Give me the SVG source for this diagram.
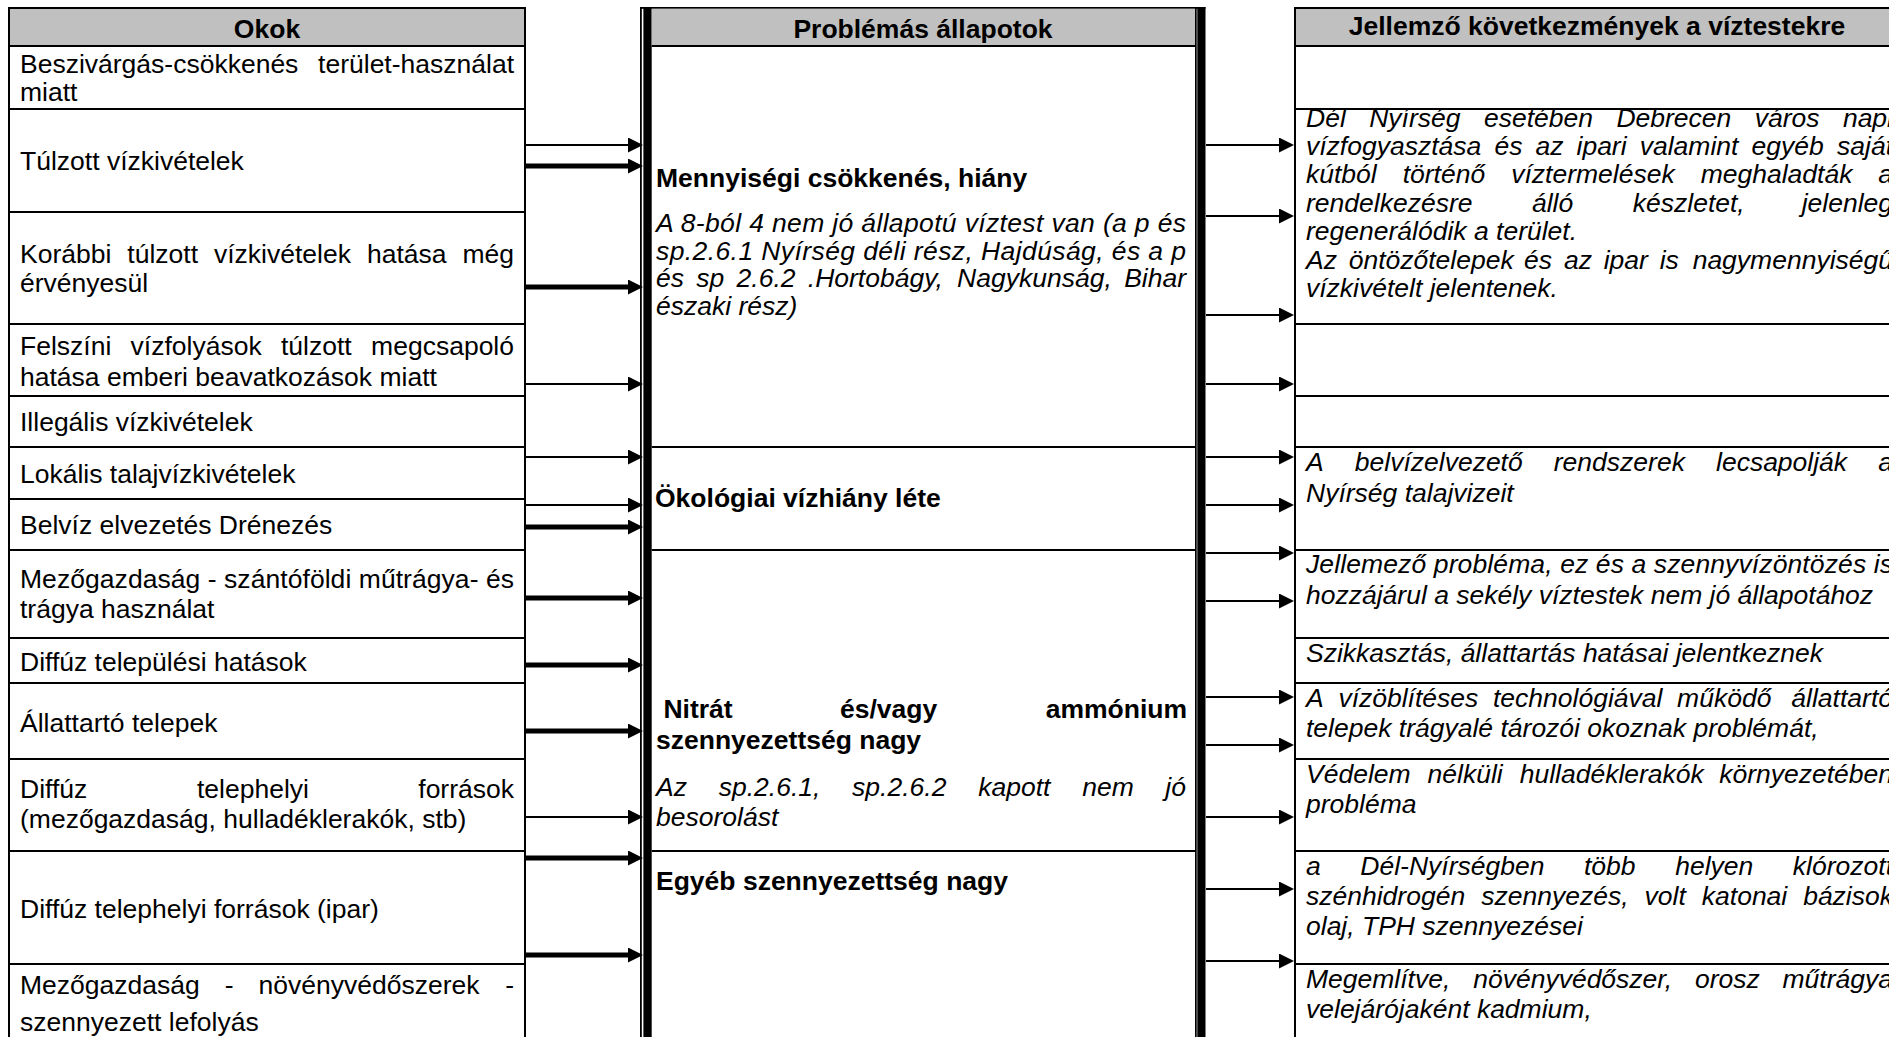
<svg xmlns="http://www.w3.org/2000/svg" width="1889" height="1037" viewBox="0 0 1889 1037">
  <style>
    .t { font-family: "Liberation Sans", Arial, Helvetica, sans-serif; font-size: 26.5px; fill: #000; }
    .b { font-weight: bold; }
    .i { font-style: italic; }
    .e { text-anchor: end; }
    .c { text-anchor: middle; }
    .cell { fill: #fff; stroke: #000; stroke-width: 2; }
    .hd { fill: #c0c0c0; stroke: #000; stroke-width: 2; }
    .bar { fill: #000; }
    .thin { stroke: #000; stroke-width: 2; fill: none; marker-end: url(#ah); }
    .thick { stroke: #000; stroke-width: 5; fill: none; marker-end: url(#ah); }
  </style>
  <defs>
    <marker id="ah" markerUnits="userSpaceOnUse" viewBox="0 0 15 15" markerWidth="15" markerHeight="15" refX="4" refY="7.5" orient="auto">
      <path d="M0,0 L15,7.5 L0,15 z" fill="#000"/>
    </marker>
  </defs>
  <rect width="1889" height="1037" fill="#fff"/>

  <!-- Left column: causes -->
  <g id="okok-header">
    <rect class="hd" x="9" y="8" width="516" height="38"/>
    <text class="t b c" x="267" y="38">Okok</text>
  </g>
  <g id="ok-beszivargas">
    <rect class="cell" x="9" y="46" width="516" height="63"/>
    <text class="t" y="73"><tspan x="20">Beszivárgás-csökkenés</tspan><tspan class="e" x="514">terület-használat</tspan></text>
    <text class="t" x="20" y="101">miatt</text>
  </g>
  <g id="ok-tulzott">
    <rect class="cell" x="9" y="109" width="516" height="103"/>
    <text class="t" x="20" y="170">Túlzott vízkivételek</text>
  </g>
  <g id="ok-korabbi">
    <rect class="cell" x="9" y="212" width="516" height="112"/>
    <text class="t" y="263"><tspan x="20">Korábbi</tspan><tspan x="127.3">túlzott</tspan><tspan x="214">vízkivételek</tspan><tspan x="367">hatása</tspan><tspan class="e" x="514">még</tspan></text>
    <text class="t" x="20" y="292">érvényesül</text>
  </g>
  <g id="ok-felszini">
    <rect class="cell" x="9" y="324" width="516" height="72"/>
    <text class="t" y="355"><tspan x="20">Felszíni</tspan><tspan x="130.6">vízfolyások</tspan><tspan x="281">túlzott</tspan><tspan class="e" x="514">megcsapoló</tspan></text>
    <text class="t" x="20" y="386">hatása emberi beavatkozások miatt</text>
  </g>
  <g id="ok-illegalis">
    <rect class="cell" x="9" y="396" width="516" height="51"/>
    <text class="t" x="20" y="431">Illegális vízkivételek</text>
  </g>
  <g id="ok-lokalis">
    <rect class="cell" x="9" y="447" width="516" height="52"/>
    <text class="t" x="20" y="483">Lokális talajvízkivételek</text>
  </g>
  <g id="ok-belviz">
    <rect class="cell" x="9" y="499" width="516" height="51"/>
    <text class="t" x="20" y="534">Belvíz elvezetés Drénezés</text>
  </g>
  <g id="ok-mutragya">
    <rect class="cell" x="9" y="550" width="516" height="88"/>
    <text class="t" x="20" y="588" textLength="494" lengthAdjust="spacing">Mezőgazdaság - szántóföldi műtrágya- és</text>
    <text class="t" x="20" y="618">trágya használat</text>
  </g>
  <g id="ok-telepulesi">
    <rect class="cell" x="9" y="638" width="516" height="45"/>
    <text class="t" x="20" y="671">Diffúz települési hatások</text>
  </g>
  <g id="ok-allattarto">
    <rect class="cell" x="9" y="683" width="516" height="76"/>
    <text class="t" x="20" y="732">Állattartó telepek</text>
  </g>
  <g id="ok-telephelyi">
    <rect class="cell" x="9" y="759" width="516" height="92"/>
    <text class="t" y="798"><tspan x="20">Diffúz</tspan><tspan x="197">telephelyi</tspan><tspan class="e" x="514">források</tspan></text>
    <text class="t" x="20" y="828">(mezőgazdaság, hulladéklerakók, stb)</text>
  </g>
  <g id="ok-ipar">
    <rect class="cell" x="9" y="851" width="516" height="113"/>
    <text class="t" x="20" y="918">Diffúz telephelyi források (ipar)</text>
  </g>
  <g id="ok-novenyvedo">
    <rect class="cell" x="9" y="964" width="516" height="84"/>
    <text class="t" y="994"><tspan x="20">Mezőgazdaság</tspan><tspan x="224.7">-</tspan><tspan x="258.5">növényvédőszerek</tspan><tspan class="e" x="514">-</tspan></text>
    <text class="t" x="20" y="1031">szennyezett lefolyás</text>
  </g>

  <!-- Middle column: problem states, framed by thick-thin borders -->
  <g id="allapot-frame">
    <rect class="bar" x="640" y="7" width="1.8" height="1040"/>
    <rect class="bar" x="643.4" y="7" width="8.3" height="1040"/>
    <rect class="bar" x="1195" y="7" width="1.7" height="1040"/>
    <rect class="bar" x="1197.3" y="7" width="8.2" height="1040"/>
    <rect class="bar" x="640" y="7" width="565.5" height="1.8"/>
  </g>
  <g id="allapot-header">
    <rect x="651.7" y="8.8" width="543.3" height="37" fill="#c0c0c0"/>
    <line x1="651.7" y1="46" x2="1195" y2="46" stroke="#000" stroke-width="2"/>
    <text class="t b c" x="923" y="38">Problémás állapotok</text>
  </g>
  <g id="allapot-mennyisegi">
    <text class="t b" x="656" y="187">Mennyiségi csökkenés, hiány</text>
    <text class="t i" x="656" y="232" textLength="530" lengthAdjust="spacing">A 8-ból 4 nem jó állapotú víztest van (a p és</text>
    <text class="t i" x="656" y="260" textLength="530" lengthAdjust="spacing">sp.2.6.1 Nyírség déli rész, Hajdúság, és a p</text>
    <text class="t i" y="287"><tspan x="656">és</tspan><tspan x="696.3">sp</tspan><tspan x="736.6">2.6.2</tspan><tspan x="807.8">.Hortobágy,</tspan><tspan x="957.1">Nagykunság,</tspan><tspan class="e" x="1186">Bihar</tspan></text>
    <text class="t i" x="656" y="315">északi rész)</text>
  </g>
  <g id="allapot-okologiai">
    <line x1="651.7" y1="447" x2="1195" y2="447" stroke="#000" stroke-width="2"/>
    <text class="t b" x="655" y="507">Ökológiai vízhiány léte</text>
  </g>
  <g id="allapot-nitrat">
    <line x1="651.7" y1="550" x2="1195" y2="550" stroke="#000" stroke-width="2"/>
    <text class="t b" y="718"><tspan x="663.4">Nitrát</tspan><tspan x="840">és/vagy</tspan><tspan class="e" x="1187">ammónium</tspan></text>
    <text class="t b" x="656" y="749">szennyezettség nagy</text>
    <text class="t i" y="796"><tspan x="656">Az</tspan><tspan x="718.7">sp.2.6.1,</tspan><tspan x="852.1">sp.2.6.2</tspan><tspan x="978.2">kapott</tspan><tspan x="1082.2">nem</tspan><tspan class="e" x="1186">jó</tspan></text>
    <text class="t i" x="656" y="826">besorolást</text>
  </g>
  <g id="allapot-egyeb">
    <line x1="651.7" y1="851" x2="1195" y2="851" stroke="#000" stroke-width="2"/>
    <text class="t b" x="656" y="890">Egyéb szennyezettség nagy</text>
  </g>

  <!-- Right column: consequences for the water bodies -->
  <g id="kov-header">
    <rect class="hd" x="1295" y="8" width="611" height="38"/>
    <text class="t b c" x="1597" y="35">Jellemző következmények a víztestekre</text>
  </g>
  <g id="kov-ures-1">
    <rect class="cell" x="1295" y="46" width="611" height="63"/>
  </g>
  <g id="kov-del-nyirseg">
    <rect class="cell" x="1295" y="109" width="611" height="215"/>
    <text class="t i" y="127"><tspan x="1306">Dél</tspan><tspan x="1369.2">Nyírség</tspan><tspan x="1484">esetében</tspan><tspan x="1616.4">Debrecen</tspan><tspan x="1754.8">város</tspan><tspan class="e" x="1893">napi</tspan></text>
    <text class="t i" y="155"><tspan x="1306">vízfogyasztása</tspan><tspan x="1494.4">és</tspan><tspan x="1535.4">az</tspan><tspan x="1576.5">ipari</tspan><tspan x="1639.7">valamint</tspan><tspan x="1751.5">egyéb</tspan><tspan class="e" x="1893">saját</tspan></text>
    <text class="t i" y="183"><tspan x="1306">kútból</tspan><tspan x="1402.7">történő</tspan><tspan x="1511.2">víztermelések</tspan><tspan x="1700.7">meghaladták</tspan><tspan class="e" x="1893">a</tspan></text>
    <text class="t i" y="212"><tspan x="1306">rendelkezésre</tspan><tspan x="1531.9">álló</tspan><tspan x="1632.8">készletet,</tspan><tspan class="e" x="1893">jelenleg</tspan></text>
    <text class="t i" x="1306" y="240">regenerálódik a terület.</text>
    <text class="t i" y="269"><tspan x="1306">Az</tspan><tspan x="1348.7">öntözőtelepek</tspan><tspan x="1524.1">és</tspan><tspan x="1563.9">az</tspan><tspan x="1603.7">ipar</tspan><tspan x="1659.7">is</tspan><tspan class="e" x="1893">nagymennyiségű</tspan></text>
    <text class="t i" x="1306" y="297">vízkivételt jelentenek.</text>
  </g>
  <g id="kov-ures-2">
    <rect class="cell" x="1295" y="324" width="611" height="72"/>
  </g>
  <g id="kov-ures-3">
    <rect class="cell" x="1295" y="396" width="611" height="51"/>
  </g>
  <g id="kov-belviz">
    <rect class="cell" x="1295" y="447" width="611" height="103"/>
    <text class="t i" y="471"><tspan x="1306">A</tspan><tspan x="1354.8">belvízelvezető</tspan><tspan x="1553.8">rendszerek</tspan><tspan x="1716">lecsapolják</tspan><tspan class="e" x="1893">a</tspan></text>
    <text class="t i" x="1306" y="502">Nyírség talajvizeit</text>
  </g>
  <g id="kov-jellemzo">
    <rect class="cell" x="1295" y="550" width="611" height="88"/>
    <text class="t i" x="1306" y="573" textLength="587" lengthAdjust="spacing">Jellemező probléma, ez és a szennyvízöntözés is</text>
    <text class="t i" x="1306" y="604">hozzájárul a sekély víztestek nem jó állapotához</text>
  </g>
  <g id="kov-szikkasztas">
    <rect class="cell" x="1295" y="638" width="611" height="45"/>
    <text class="t i" x="1306" y="662">Szikkasztás, állattartás hatásai jelentkeznek</text>
  </g>
  <g id="kov-vizoblites">
    <rect class="cell" x="1295" y="683" width="611" height="76"/>
    <text class="t i" y="707"><tspan x="1306">A</tspan><tspan x="1338.4">vízöblítéses</tspan><tspan x="1493">technológiával</tspan><tspan x="1677.1">működő</tspan><tspan class="e" x="1893">állattartó</tspan></text>
    <text class="t i" x="1306" y="737">telepek trágyalé tározói okoznak problémát,</text>
  </g>
  <g id="kov-hulladek">
    <rect class="cell" x="1295" y="759" width="611" height="92"/>
    <text class="t i" y="783"><tspan x="1306">Védelem</tspan><tspan x="1427.6">nélküli</tspan><tspan x="1519.7">hulladéklerakók</tspan><tspan class="e" x="1893">környezetében</tspan></text>
    <text class="t i" x="1306" y="813">probléma</text>
  </g>
  <g id="kov-klorozott">
    <rect class="cell" x="1295" y="851" width="611" height="113"/>
    <text class="t i" y="875"><tspan x="1306">a</tspan><tspan x="1360.3">Dél-Nyírségben</tspan><tspan x="1584">több</tspan><tspan x="1675.2">helyen</tspan><tspan class="e" x="1893">klórozott</tspan></text>
    <text class="t i" y="905"><tspan x="1306">szénhidrogén</tspan><tspan x="1481.2">szennyezés,</tspan><tspan x="1644.5">volt</tspan><tspan x="1701.8">katonai</tspan><tspan class="e" x="1893">bázisok</tspan></text>
    <text class="t i" x="1306" y="935">olaj, TPH szennyezései</text>
  </g>
  <g id="kov-kadmium">
    <rect class="cell" x="1295" y="964" width="611" height="84"/>
    <text class="t i" y="988"><tspan x="1306">Megemlítve,</tspan><tspan x="1473.2">növényvédőszer,</tspan><tspan x="1694.9">orosz</tspan><tspan class="e" x="1893">műtrágya</tspan></text>
    <text class="t i" x="1306" y="1018">velejárójaként kadmium,</text>
  </g>

  <!-- Connectors: causes to states, states to consequences -->
  <g id="connectors">
    <line class="thin" x1="526" y1="145" x2="632" y2="145"/>
    <line class="thick" x1="526" y1="166" x2="632" y2="166"/>
    <line class="thick" x1="526" y1="287" x2="632" y2="287"/>
    <line class="thin" x1="526" y1="384" x2="632" y2="384"/>
    <line class="thin" x1="526" y1="457" x2="632" y2="457"/>
    <line class="thin" x1="526" y1="505" x2="632" y2="505"/>
    <line class="thick" x1="526" y1="527" x2="632" y2="527"/>
    <line class="thick" x1="526" y1="598" x2="632" y2="598"/>
    <line class="thick" x1="526" y1="665" x2="632" y2="665"/>
    <line class="thick" x1="526" y1="731" x2="632" y2="731"/>
    <line class="thin" x1="526" y1="817" x2="632" y2="817"/>
    <line class="thick" x1="526" y1="858" x2="632" y2="858"/>
    <line class="thick" x1="526" y1="955" x2="632" y2="955"/>

    <line class="thin" x1="1206" y1="145" x2="1283" y2="145"/>
    <line class="thin" x1="1206" y1="216" x2="1283" y2="216"/>
    <line class="thin" x1="1206" y1="315" x2="1283" y2="315"/>
    <line class="thin" x1="1206" y1="384" x2="1283" y2="384"/>
    <line class="thin" x1="1206" y1="457" x2="1283" y2="457"/>
    <line class="thin" x1="1206" y1="505" x2="1283" y2="505"/>
    <line class="thin" x1="1206" y1="553" x2="1283" y2="553"/>
    <line class="thin" x1="1206" y1="601" x2="1283" y2="601"/>
    <line class="thin" x1="1206" y1="697" x2="1283" y2="697"/>
    <line class="thin" x1="1206" y1="745" x2="1283" y2="745"/>
    <line class="thin" x1="1206" y1="817" x2="1283" y2="817"/>
    <line class="thin" x1="1206" y1="889" x2="1283" y2="889"/>
    <line class="thin" x1="1206" y1="961" x2="1283" y2="961"/>
  </g>
</svg>
